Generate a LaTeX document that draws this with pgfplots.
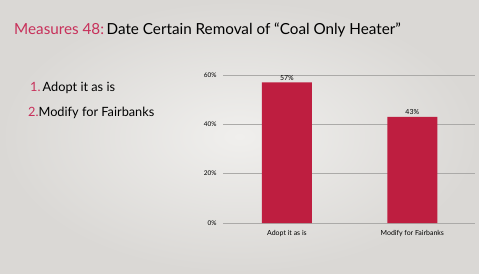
\documentclass[border=0pt]{standalone}
\usepackage{pgfplots}
\pgfplotsset{compat=1.18}
\usepackage{fontspec}
\setmainfont{Lato}
\definecolor{barred}{HTML}{BE1E40}
\definecolor{titlepink}{HTML}{C8305A}
\definecolor{gridgray}{HTML}{ABAAA8}
\begin{document}
\begin{tikzpicture}[x=1bp,y=1bp]
\shade[inner color={rgb,255:red,240;green,239;blue,237}, outer color={rgb,255:red,218;green,216;blue,213}] (0,0) rectangle (479,273);
\useasboundingbox (0,0) rectangle (479,273);
\node[anchor=base west, inner sep=0, font=\fontsize{15.3}{18}\selectfont] at (14,239)
  {\textcolor{titlepink}{Measures 48:}\,Date Certain Removal of ``Coal Only Heater''};
\node[anchor=base west, inner sep=0, font=\fontsize{12.8}{15}\selectfont] at (30,182)
  {\textcolor{titlepink}{1.}\,Adopt it as is};
\node[anchor=base west, inner sep=0, font=\fontsize{12.8}{15}\selectfont] at (28,157)
  {\textcolor{titlepink}{2.}Modify for Fairbanks};
\begin{axis}[
  at={(223bp,50bp)}, anchor=south west,
  scale only axis, width=252bp, height=148bp,
  xmin=-0.51, xmax=1.5, ymin=0, ymax=60,
  axis line style={draw=none},
  ybar, bar width=50bp,
  xtick={0,1}, xticklabels={Adopt it as is, Modify for Fairbanks},
  ytick={0,20,40,60},
  yticklabel={\pgfmathprintnumber{\tick}\%},
  /pgf/number format/assume math mode=true,
  major tick length=0pt,
  ymajorgrids, grid style={gridgray, line width=0.9bp},
  xticklabel style={font=\fontsize{7}{8}\selectfont, yshift=-4bp},
  yticklabel style={font=\fontsize{6.5}{7}\selectfont, xshift=-3bp},
  nodes near coords={\pgfmathprintnumber{\pgfplotspointmeta}\%},
  nodes near coords style={font=\fontsize{7}{8}\selectfont, inner sep=2bp},
  clip=false,
]
\addplot[fill=barred, draw=none] coordinates {(0,57) (1,43)};
\end{axis}
\end{tikzpicture}
\end{document}
